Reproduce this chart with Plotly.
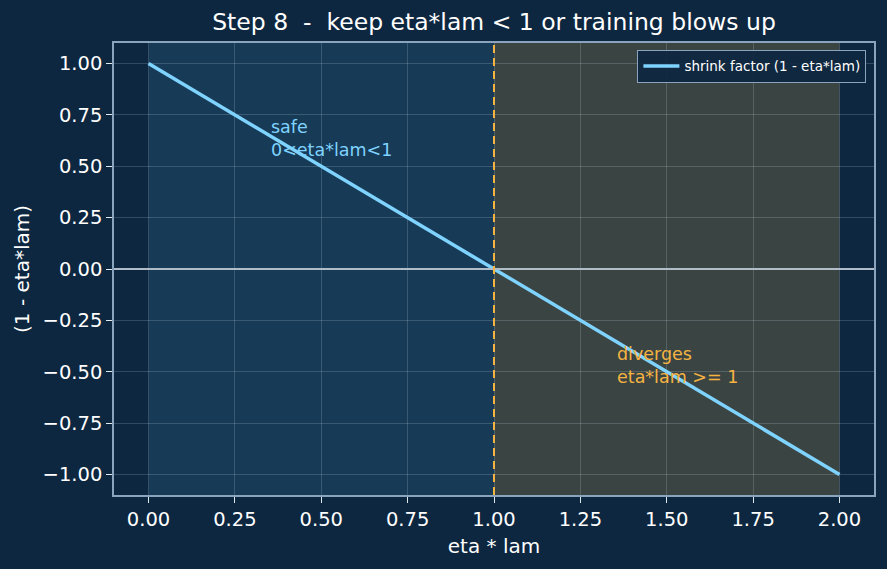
import plotly.graph_objects as go

eta_lam = [0.0, 2.0]
shrink = [1.0, -1.0]
x_ticks = [0.0, 0.25, 0.5, 0.75, 1.0, 1.25, 1.5, 1.75, 2.0]
y_ticks = [1.0, 0.75, 0.5, 0.25, 0.0, -0.25, -0.5, -0.75, -1.0]
threshold = 1.0
safe_region = [0.0, 1.0]
diverge_region = [1.0, 2.0]

BG = "#0d2740"
FONT = "DejaVu Sans"

fig = go.Figure()
fig.add_trace(go.Scatter(x=eta_lam, y=shrink, mode="lines",
                         line=dict(color="#7fd3ff", width=3.5),
                         name="shrink factor (1 - eta*lam)"))

fig.add_vrect(x0=safe_region[0], x1=safe_region[1], fillcolor="#173a56",
              line_width=0, layer="below")
fig.add_vrect(x0=diverge_region[0], x1=diverge_region[1], fillcolor="#3a4543",
              line_width=0, layer="below")
fig.add_hline(y=0, line=dict(color="#b0bcc8", width=2))
fig.add_vline(x=threshold, line=dict(color="#f5b342", width=2, dash="8px,5px"))

fig.add_annotation(x=0.35, y=0.52, xanchor="left", yanchor="bottom",
                   text="safe<br>0<eta*lam<1", showarrow=False, align="left",
                   font=dict(color="#7fd3ff", size=17.5, family=FONT))
fig.add_annotation(x=1.35, y=-0.585, xanchor="left", yanchor="bottom",
                   text="diverges<br>eta*lam >= 1", showarrow=False, align="left",
                   font=dict(color="#f5b342", size=17.5, family=FONT))

axis_common = dict(showgrid=True, gridcolor="rgba(200,215,230,0.2)", gridwidth=1,
                   zeroline=False, showline=True, linecolor="#8aa4bd", linewidth=1.5,
                   mirror=True, ticks="outside", tickcolor="#e0e8f0", ticklen=6,
                   tickfont=dict(color="#ffffff", size=19.5, family=FONT))

fig.update_xaxes(range=[-0.1, 2.1], tickvals=x_ticks,
                 ticktext=[f"{v:.2f}" for v in x_ticks],
                 title=dict(text="eta * lam", font=dict(color="#ffffff", size=20, family=FONT),
                            standoff=9),
                 **axis_common)
fig.update_yaxes(range=[-1.1, 1.1], tickvals=y_ticks,
                 ticktext=[f"{v:.2f}".replace("-", "\u2212") for v in y_ticks],
                 title=dict(text="(1 - eta*lam)", font=dict(color="#ffffff", size=20, family=FONT),
                            standoff=8),
                 **axis_common)

fig.update_layout(
    width=887, height=569,
    paper_bgcolor=BG, plot_bgcolor=BG,
    margin=dict(l=114, r=13, t=43, b=74),
    title=dict(text="Step 8  -  keep eta*lam < 1 or training blows up",
               x=0.5, xanchor="center", xref="paper", y=0.962, yanchor="middle",
               font=dict(color="#ffffff", size=23.5, family=FONT)),
    showlegend=True,
    legend=dict(x=0.99, y=0.985, xanchor="right", yanchor="top",
                bgcolor="rgba(13,39,64,0.92)", bordercolor="#8aa4bd", borderwidth=1,
                font=dict(color="#ffffff", size=13.5, family=FONT),
                itemwidth=36),
    font=dict(family=FONT),
)

fig.write_html("out.html")
